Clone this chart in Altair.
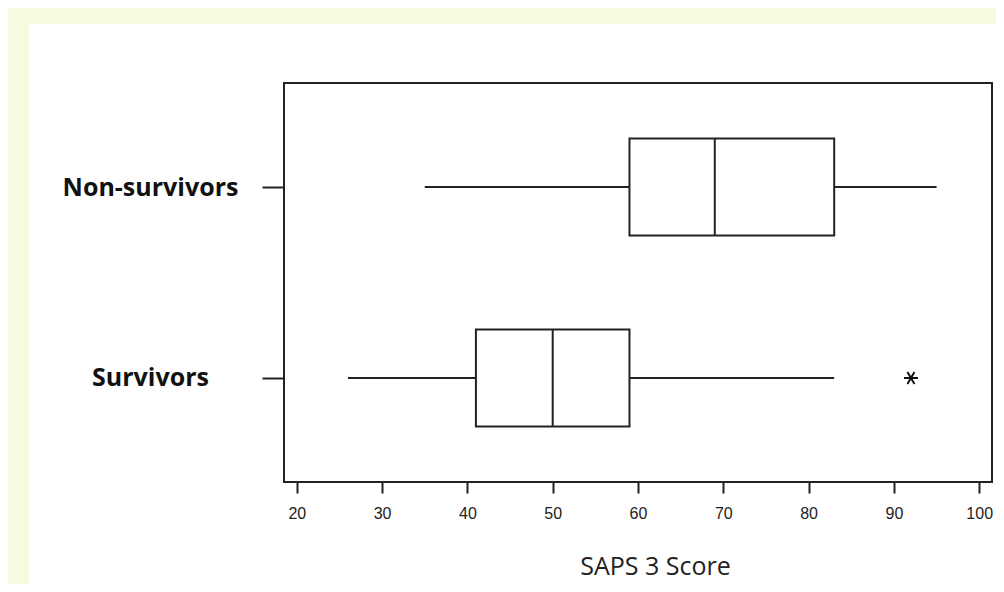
import altair as alt
import pandas as pd

groups = ["Non-survivors", "Survivors"]
whisker_lo = [35, 26]
q1 = [59, 41]
median = [69, 50]
q3 = [83, 59]
whisker_hi = [95, 83]
outlier_group = ["Survivors"]
outlier_value = [92]
x_ticks = [20, 30, 40, 50, 60, 70, 80, 90, 100]

df = pd.DataFrame({"group": groups, "lo": whisker_lo, "q1": q1,
                   "med": median, "q3": q3, "hi": whisker_hi})
df_out = pd.DataFrame({"group": outlier_group, "value": outlier_value})

INK = "#222222"
YELLOW = "#F8FADF"

xscale = alt.Scale(domain=[18.5, 101.5], nice=False, zero=False)
yscale = alt.Scale(type="point", domain=groups, padding=0.545)

xaxis = alt.Axis(values=x_ticks, tickSize=11, tickWidth=2, tickColor=INK,
                 domain=False, grid=False, labelFont="Liberation Sans",
                 labelFontSize=16, labelColor=INK, labelPadding=12,
                 title="SAPS 3 Score", titleFont="Open Sans", titleFontSize=25,
                 titleFontWeight="normal", titleColor=INK, titleX=371, titleY=92,
                 titleBaseline="alphabetic", titleAlign="center", zindex=1)
yaxis = alt.Axis(title=None, tickSize=22, tickWidth=2, tickColor=INK,
                 domain=False, grid=False, labelFont="Open Sans",
                 labelFontSize=25, labelFontWeight="bold", labelColor="#111111",
                 labelAlign="center", labelPadding=112, labelBaseline="middle",
                 zindex=1)

y_enc = alt.Y("group:N", scale=yscale, axis=yaxis)

base = alt.Chart(df)

whisk = base.mark_rule(color=INK, strokeWidth=2).encode(
    x=alt.X("lo:Q", scale=xscale, axis=xaxis), x2="hi:Q", y=y_enc)
box = base.mark_bar(size=97, fill="white", stroke=INK, strokeWidth=2).encode(
    x=alt.X("q1:Q", scale=xscale), x2="q3:Q", y=alt.Y("group:N", scale=yscale))
med = base.mark_tick(size=97, thickness=2, color=INK, opacity=1).encode(
    x=alt.X("med:Q", scale=xscale), y=alt.Y("group:N", scale=yscale))
star = "M-1,0L1,0M-0.5,-0.866L0.5,0.866M-0.5,0.866L0.5,-0.866"
out = alt.Chart(df_out).mark_point(shape=star, size=196, filled=False,
                                   stroke="#111111", strokeWidth=2, opacity=1).encode(
    x=alt.X("value:Q", scale=xscale), y=alt.Y("group:N", scale=yscale))

deco = alt.Data(values=[{"k": 1}])
left_strip = alt.Chart(deco).mark_rect(fill=YELLOW).encode(
    x=alt.value(-300), x2=alt.value(-255), y=alt.value(-100), y2=alt.value(520))
top_strip = alt.Chart(deco).mark_rect(fill=YELLOW).encode(
    x=alt.value(-300), x2=alt.value(740), y=alt.value(-100), y2=alt.value(-59))

chart = alt.layer(left_strip, top_strip, whisk, box, med, out).properties(
    width=708, height=399,
    autosize=alt.AutoSizeParams(type="none"),
    padding={"left": 276, "top": 75, "right": 4, "bottom": 102},
    background="white",
).configure_view(stroke=INK, strokeWidth=2)

chart.save("out.html", embed_options={"renderer": "svg", "actions": False})
